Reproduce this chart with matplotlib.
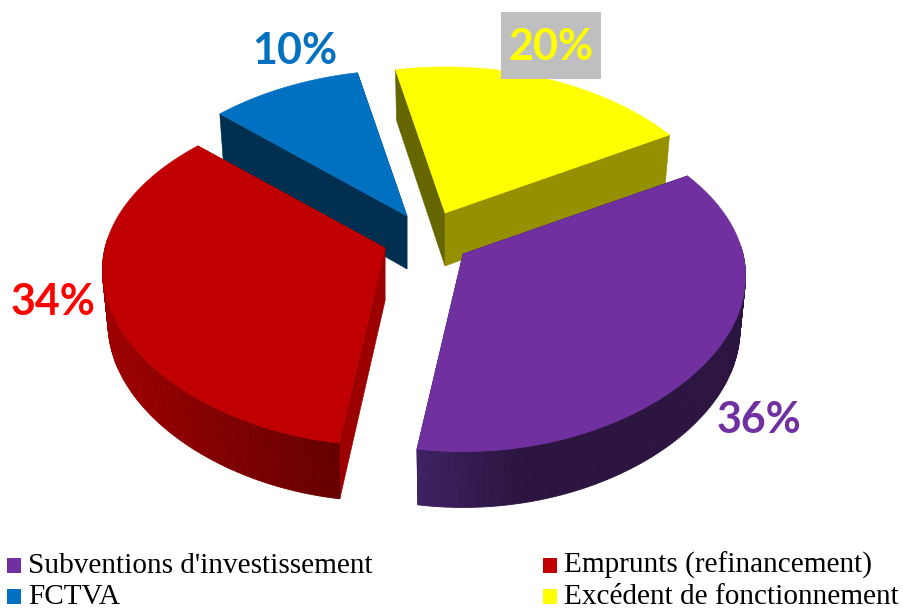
import matplotlib
matplotlib.use("Agg")
import matplotlib.pyplot as plt
from matplotlib.patches import Polygon, Rectangle
from matplotlib.colors import to_rgb
import numpy as np

# data, clockwise from the start angle
categories = ["Excédent de fonctionnement", "Subventions d'investissement",
              "Emprunts (refinancement)", "FCTVA"]
values = [20, 35.7, 34.3, 10]
slice_colors = ["#FFFF00", "#7030A0", "#C00000", "#0070C0"]
label_colors = ["#FFFF00", "#7030A0", "#FF0000", "#0070C0"]
cut_colors = [("#666600", "#949000"), ("#2B1440", "#2B1440"),
              ("#9C0000", "#9C0000"), ("#002F50", "#002F50")]
wall_left = ["#949000", "#3E2264", "#9E0000", "#002F50"]
wall_right = ["#949000", "#2B1440", "#640000", "#002F50"]
wall_reach = [1.0, 0.3, 1.0, 1.0]

# pixel position of each slice tip after the explosion
tips = [(445, 213), (463, 254), (385, 248), (407, 216)]
label_pos = [(551, 47), (759, 420), (53, 302), (295, 51)]
draw_order = [3, 0, 2, 1]

start_angle = -12.0
radius_x = 280.0
radius_y = 168.0
persp_x = 0.14
persp_x2 = 0.04
persp_y = 0.15
depth = 53.0
shrink = 0.98


def project(theta, tip):
    # flat disc seen in perspective, theta clockwise from the far side
    xd = np.sin(theta)
    yd = np.cos(theta)
    den_x = 1 + persp_x * yd + persp_x2 * yd ** 2
    return (tip[0] + radius_x * xd / den_x,
            tip[1] - radius_y * yd / (1 + persp_y * yd), yd)


def lower(x, y, yd, tip):
    return tip[0] + shrink * (x - tip[0]), y + depth / (1 + 0.05 * yd)


def draw_slice(ax, i, a0, a1):
    tip = tips[i]
    th = np.radians(np.linspace(a0, a1, 161))
    x, y, yd = project(th, tip)
    xb, yb = lower(x, y, yd, tip)
    tipb = (tip[0], tip[1] + depth)

    # the two cut faces
    ax.add_patch(Polygon([tip, (x[0], y[0]), (xb[0], yb[0]), tipb], closed=True,
                         fc=cut_colors[i][0], ec=cut_colors[i][0], lw=0.4))
    ax.add_patch(Polygon([tip, (x[-1], y[-1]), (xb[-1], yb[-1]), tipb], closed=True,
                         fc=cut_colors[i][1], ec=cut_colors[i][1], lw=0.4))

    # outer wall in thin strips for the shading, only the side facing us
    c_l = np.array(to_rgb(wall_left[i]))
    c_r = np.array(to_rgb(wall_right[i]))
    span = max(x.max() - x.min(), 1)
    for k in range(len(th) - 1):
        if yd[k] > 0.05:
            continue
        t = (0.5 * (x[k] + x[k + 1]) - x.min()) / span
        t = min(1.0, t / wall_reach[i])
        col = c_l + (c_r - c_l) * t
        quad = [(x[k], y[k]), (x[k + 1], y[k + 1]), (xb[k + 1], yb[k + 1]), (xb[k], yb[k])]
        ax.add_patch(Polygon(quad, closed=True, fc=col, ec=col, lw=0.6))

    # top
    top = [tip] + list(zip(x, y))
    ax.add_patch(Polygon(top, closed=True, fc=slice_colors[i], ec=slice_colors[i], lw=0.4))


fig = plt.figure(figsize=(9.04, 6.11), dpi=100)
ax = fig.add_axes([0, 0, 1, 1])
ax.set_xlim(0, 904)
ax.set_ylim(611, 0)
ax.axis("off")

edges = start_angle + 3.6 * np.concatenate([[0], np.cumsum(values)])
for i in draw_order:
    draw_slice(ax, i, edges[i], edges[i + 1])

# labels
ax.add_patch(Rectangle((501, 12), 100, 67, fc="#BFBFBF", ec="none", zorder=5))
for i, v in enumerate(values):
    ax.text(label_pos[i][0], label_pos[i][1], f"{v:.0f}%", color=label_colors[i],
            family="Lato", weight="bold", fontsize=31, ha="center", va="center", zorder=6)

# legend, written out by hand because of the two wide columns
legend_rows = [(1, 7, 573), (2, 543, 573), (3, 7, 604), (0, 543, 604)]
for i, lx, ly in legend_rows:
    ax.add_patch(Rectangle((lx, ly - 15), 14.5, 15, fc=slice_colors[i], ec="none"))
    ax.text(lx + 21, ly, categories[i], family="Liberation Serif", fontsize=21.1,
            color="black", ha="left", va="baseline")

fig.savefig("out.png", dpi=100)
